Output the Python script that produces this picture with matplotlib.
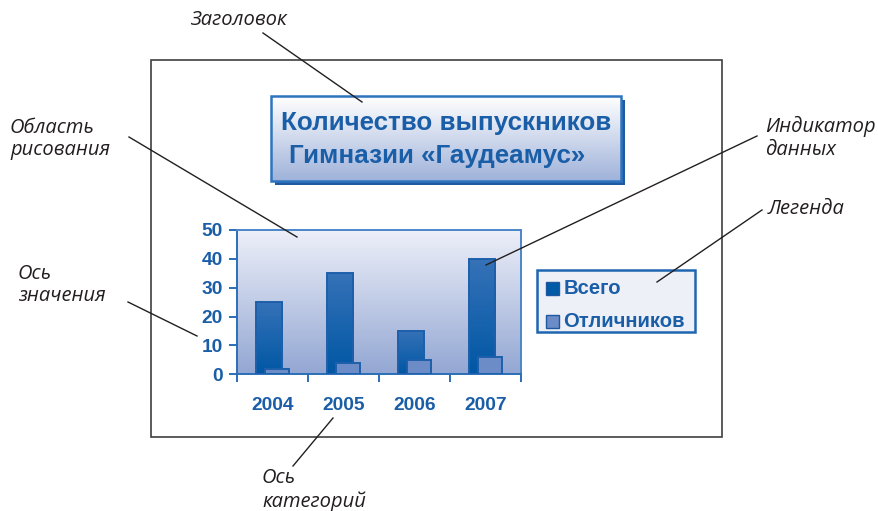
import numpy as np
import matplotlib
matplotlib.use("Agg")
import matplotlib.pyplot as plt
from matplotlib.patches import Rectangle
from matplotlib.colors import LinearSegmentedColormap

# ---- data ----
years = ["2004", "2005", "2006", "2007"]
series_names = ["Всего", "Отличников"]
total = [25, 35, 15, 40]
honors = [2, 4, 5, 6]
y_ticks = [0, 10, 20, 30, 40, 50]
title_lines = ["Количество выпускников", "Гимназии «Гаудеамус»"]

W, H = 879, 511
BLUE_TXT = "#1a5ea8"
BLUE_EDGE = "#2a6fb8"

fig = plt.figure(figsize=(W / 100, H / 100), dpi=100)
fig.patch.set_facecolor("white")


def px_axes(z):
    a = fig.add_axes([0, 0, 1, 1], zorder=z)
    a.set_xlim(0, W)
    a.set_ylim(H, 0)
    a.axis("off")
    a.patch.set_alpha(0)
    return a


def vgrad(top, bottom, n=256):
    cmap = LinearSegmentedColormap.from_list("g", [bottom, top])
    return cmap, np.linspace(0, 1, n).reshape(-1, 1)


bg = px_axes(0)

# outer chart frame
bg.add_patch(Rectangle((150.7, 60), 571, 377.5, fill=False, ec="#404040", lw=1.2))

# title box: shadow, gradient fill, border
tx0, ty0, tx1, ty1 = 271, 96.5, 621, 181
bg.add_patch(Rectangle((tx0 + 4, ty0 + 4), tx1 - tx0, ty1 - ty0, fc="#1f5aa0", ec="none"))
cm, g = vgrad("#ffffff", "#9fb2da")
bg.imshow(g, cmap=cm, extent=[tx0, tx1, ty1, ty0], aspect="auto", origin="lower", zorder=2)
bg.add_patch(Rectangle((tx0, ty0), tx1 - tx0, ty1 - ty0, fill=False, ec="#2e74be", lw=1.8, zorder=3))
bg.set_xlim(0, W)
bg.set_ylim(H, 0)
bg.text(446, 123, title_lines[0], ha="center", va="center", fontsize=18.7,
        fontweight="bold", family="Liberation Sans", color=BLUE_TXT, zorder=4)
bg.text(437, 156, title_lines[1], ha="center", va="center", fontsize=18.7,
        fontweight="bold", family="Liberation Sans", color=BLUE_TXT, zorder=4)

# legend box
lx0, ly0, lx1, ly1 = 537, 270, 695, 332.5
bg.add_patch(Rectangle((lx0, ly0), lx1 - lx0, ly1 - ly0, fc="#eef0f8", ec="#1f66b0", lw=1.8))
legend_colors = ["#005aa6", "#6b8cc6"]
for i, (name, col) in enumerate(zip(series_names, legend_colors)):
    cy = 288.5 + i * 33
    bg.add_patch(Rectangle((546, cy - 6.5), 13, 13, fc=col, ec="#1d58a0", lw=1.0))
    bg.text(563.5, cy, name, ha="left", va="center", fontsize=14.6, fontweight="bold",
            family="Liberation Sans", color=BLUE_TXT)

# ---- chart ----
L, R, T, B = 236.7, 520.7, 230, 374.3
ax = fig.add_axes([L / W, (H - B) / H, (R - L) / W, (B - T) / H], zorder=1)
x = np.arange(len(years))
ax.set_xlim(-0.5, len(years) - 0.5)
ax.set_ylim(0, 50)

cm, g = vgrad("#eef0f9", "#93a7d3")
ax.imshow(g, cmap=cm, extent=[-0.5, len(years) - 0.5, 0, 50], aspect="auto",
          origin="lower", zorder=0)

bar_cm, bar_g = vgrad("#3672b8", "#0057a4")
bars_total = ax.bar(x - 0.045, total, width=0.375, color="none", ec="#1d5fab", lw=1.4, zorder=3)
for b in bars_total:
    x0, w, h = b.get_x(), b.get_width(), b.get_height()
    gi = ax.imshow(bar_g, cmap=bar_cm, extent=[x0, x0 + w, 0, h], aspect="auto",
                   origin="lower", zorder=2)
    gi.set_clip_path(b)
ax.bar(x + 0.065, honors, width=0.34, color="#6b8cc6", ec="#1d5fab", lw=1.4, zorder=4)
ax.set_xlim(-0.5, len(years) - 0.5)
ax.set_ylim(0, 50)

for s in ax.spines.values():
    s.set_color(BLUE_EDGE)
    s.set_linewidth(1.4)
ax.spines["top"].set_color("#4a86c8")
ax.spines["right"].set_color("#4a86c8")

ax.set_yticks(y_ticks)
ax.set_yticklabels([str(v) for v in y_ticks])
ax.set_xticks(np.arange(-0.5, len(years)), minor=False)
ax.set_xticklabels([])
ax.set_xticks(x, minor=True)
ax.set_xticklabels(years, minor=True)
ax.tick_params(axis="x", which="major", direction="out", length=6, width=1.4, color=BLUE_EDGE)
ax.tick_params(axis="x", which="minor", length=0, pad=16)
ax.tick_params(axis="y", direction="out", length=6, width=1.4, color=BLUE_EDGE, pad=4)
for lab in ax.get_yticklabels() + ax.get_xticklabels(minor=True):
    lab.set_fontsize(13.8)
    lab.set_fontweight("bold")
    lab.set_family("Liberation Sans")
    lab.set_color(BLUE_TXT)

# ---- callouts ----
top = px_axes(5)
callouts = [
    ("Заголовок", 190, 20, (263, 33), (362, 102)),
    ("Область\nрисования", 10, 139, (129, 137), (297, 237)),
    ("Ось\nзначения", 18, 285, (128, 302), (197, 336)),
    ("Индикатор\nданных", 765, 138, (757, 136), (486, 265)),
    ("Легенда", 768, 209, (762, 210), (657, 282)),
    ("Ось\nкатегорий", 262, 490, (333, 418), (293, 466)),
]
for text, tx, ty, p0, p1 in callouts:
    top.text(tx, ty, text, ha="left", va="center", fontsize=14.5, style="italic",
             family="Open Sans", color="#231f20", linespacing=1.17)
    top.plot([p0[0], p1[0]], [p0[1], p1[1]], color="#231f20", lw=1.0)
top.set_xlim(0, W)
top.set_ylim(H, 0)

fig.savefig("out.png", dpi=100)
